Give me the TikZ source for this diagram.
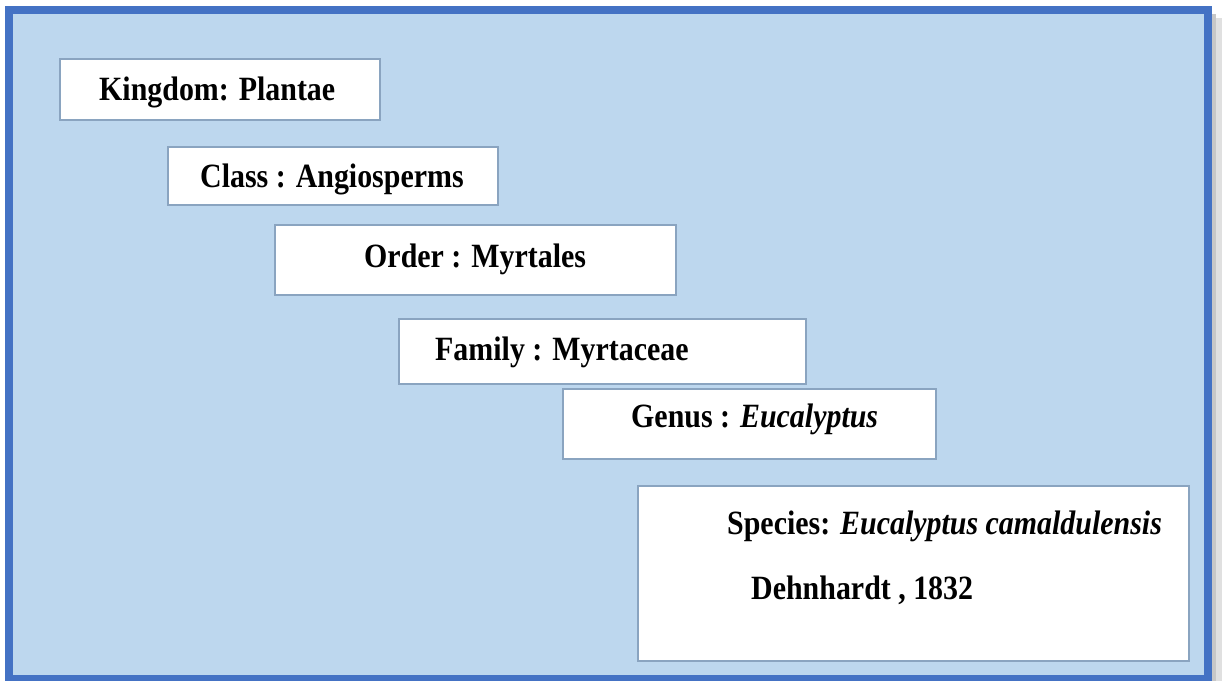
\documentclass[tikz,border=0pt]{standalone}
\usepackage{fontspec}
\setmainfont{Liberation Serif}[FakeStretch=0.88]
\definecolor{bgblue}{HTML}{BDD7EE}
\definecolor{frameblue}{HTML}{4472C4}
\definecolor{boxedge}{HTML}{8AA4C0}
\tikzset{
  tbox/.style={draw=boxedge, line width=1.6pt, fill=white, inner sep=0pt},
  lbl/.style={inner sep=0pt, anchor=base west, font=\fontsize{34}{40}\selectfont\bfseries, text=black}
}
\begin{document}
\begin{tikzpicture}[x=1pt,y=-1pt]
\useasboundingbox (0,0) rectangle (1230,680);
\fill[white] (0,0) rectangle (1230,680);
% shadow
\fill[black!12] (18,18) rectangle (1222,690);
\fill[black!22] (14,14) rectangle (1216,690);
% frame
\draw[frameblue, fill=bgblue, line width=8pt] (9,9.5) rectangle (1208,679);
% boxes
\node[tbox, minimum width=320pt, minimum height=61pt] (kingdom) at (220,89.5) {};
\node[tbox, minimum width=330pt, minimum height=58pt] (class) at (333,176) {};
\node[tbox, minimum width=401pt, minimum height=70pt] (order) at (475.5,260) {};
\node[tbox, minimum width=407pt, minimum height=65pt] (family) at (602.5,351.5) {};
\node[tbox, minimum width=373pt, minimum height=70pt] (genus) at (749.5,424) {};
\node[tbox, minimum width=551pt, minimum height=175pt] (species) at (913.5,573.5) {};
% labels
\node[lbl] (kt) at (99,100) {Kingdom: Plantae};
\node[lbl] (ct) at (200,187) {Class : Angiosperms};
\node[lbl] (ot) at (364,267) {Order : Myrtales};
\node[lbl] (ft) at (435,360) {Family : Myrtaceae};
\node[lbl] (gt) at (631,427) {Genus : \textit{Eucalyptus}};
\node[lbl] (st) at (727,534) {Species: \textit{Eucalyptus camaldulensis}};
\node[lbl] (dt) at (751,599) {Dehnhardt , 1832};
\end{tikzpicture}
\end{document}
